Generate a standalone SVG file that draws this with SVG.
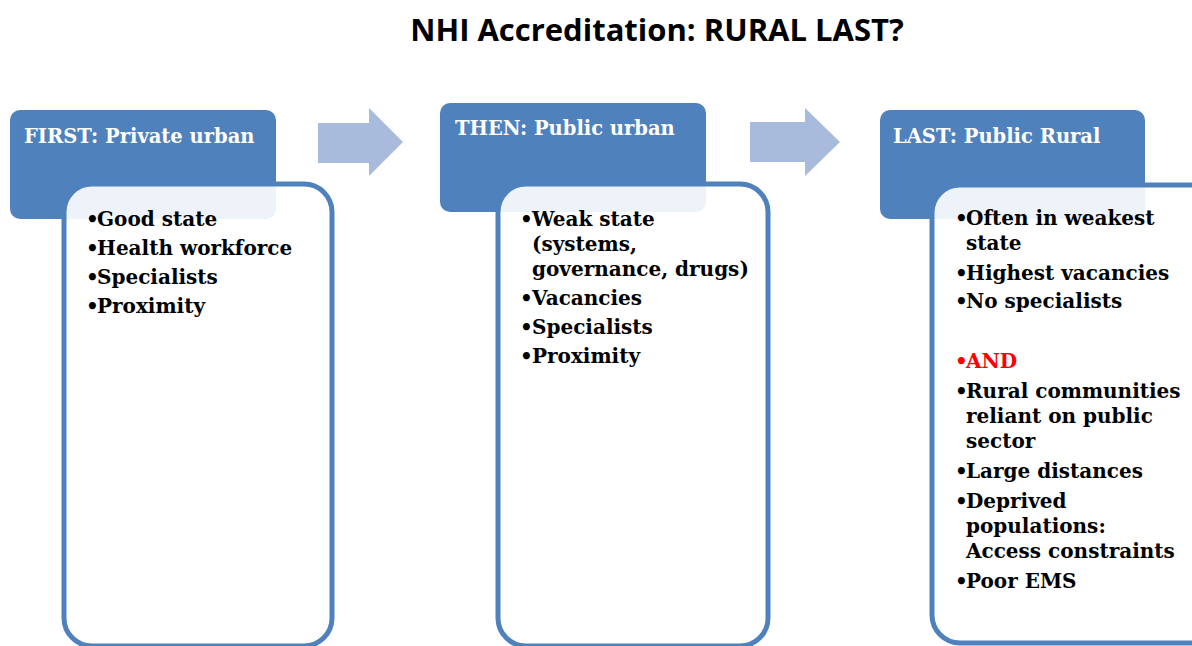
<svg xmlns="http://www.w3.org/2000/svg" width="1192" height="646" viewBox="0 0 1192 646">
<style>
.hdr{fill:#4F81BD}
.box{fill:#FFFFFF;fill-opacity:0.9;stroke:#4F81BD;stroke-width:5}
.arrow{fill:#A9BBDC}
.title{font-family:"Open Sans","Liberation Sans",sans-serif;font-weight:700;font-size:31px;fill:#000}
.ht{font-family:"DejaVu Serif","Liberation Serif",serif;font-weight:700;font-size:19.5px;fill:#FFFFFF}
.bt{font-family:"DejaVu Serif","Liberation Serif",serif;font-weight:700;font-size:20px;fill:#000}
.red{fill:#FF0000}
</style>
<rect width="1192" height="646" fill="#FFFFFF"/>
<text class="title" x="657" y="41" text-anchor="middle">NHI Accreditation: RURAL LAST?</text>
<g id="connectors">
<polygon class="arrow" points="318,123 369,123 369,108 403,142 369,176 369,163 318,163"/>
<polygon class="arrow" points="750,122 805,122 805,108 840,142 805,176 805,162 750,162"/>
</g>
<g id="node-first">
<rect class="hdr" x="10" y="110" width="266" height="109" rx="10"/>
<rect class="box" x="64" y="184" width="268" height="462" rx="28"/>
<text class="ht" x="24" y="143">FIRST: Private urban</text>
<text class="bt">
<tspan x="86" y="226">•</tspan><tspan x="97" y="226">Good state</tspan>
<tspan x="86" y="255">•</tspan><tspan x="97" y="255">Health workforce</tspan>
<tspan x="86" y="284">•</tspan><tspan x="97" y="284">Specialists</tspan>
<tspan x="86" y="313">•</tspan><tspan x="97" y="313">Proximity</tspan>
</text>
</g>
<g id="node-then">
<rect class="hdr" x="440" y="103" width="266" height="109" rx="10"/>
<rect class="box" x="498" y="184" width="270" height="462" rx="28"/>
<text class="ht" x="455" y="135">THEN: Public urban</text>
<text class="bt">
<tspan x="520" y="226">•</tspan><tspan x="532" y="226">Weak state</tspan>
<tspan x="532" y="251">(systems,</tspan>
<tspan x="532" y="276">governance, drugs)</tspan>
<tspan x="520" y="305">•</tspan><tspan x="532" y="305">Vacancies</tspan>
<tspan x="520" y="334">•</tspan><tspan x="532" y="334">Specialists</tspan>
<tspan x="520" y="363">•</tspan><tspan x="532" y="363">Proximity</tspan>
</text>
</g>
<g id="node-last">
<rect class="hdr" x="880" y="110" width="265" height="109" rx="10"/>
<rect class="box" x="932" y="185" width="290" height="458" rx="28"/>
<text class="ht" x="893" y="143">LAST: Public Rural</text>
<text class="bt">
<tspan x="955" y="225">•</tspan><tspan x="966" y="225">Often in weakest</tspan>
<tspan x="966" y="250">state</tspan>
<tspan x="955" y="280">•</tspan><tspan x="966" y="280">Highest vacancies</tspan>
<tspan x="955" y="308">•</tspan><tspan x="966" y="308">No specialists</tspan>
<tspan x="955" y="368" class="red">•</tspan><tspan x="966" y="368" class="red">AND</tspan>
<tspan x="955" y="398">•</tspan><tspan x="966" y="398">Rural communities</tspan>
<tspan x="966" y="423">reliant on public</tspan>
<tspan x="966" y="448">sector</tspan>
<tspan x="955" y="478">•</tspan><tspan x="966" y="478">Large distances</tspan>
<tspan x="955" y="508">•</tspan><tspan x="966" y="508">Deprived</tspan>
<tspan x="966" y="533">populations:</tspan>
<tspan x="966" y="558">Access constraints</tspan>
<tspan x="955" y="588">•</tspan><tspan x="966" y="588">Poor EMS</tspan>
</text>
</g>
</svg>
